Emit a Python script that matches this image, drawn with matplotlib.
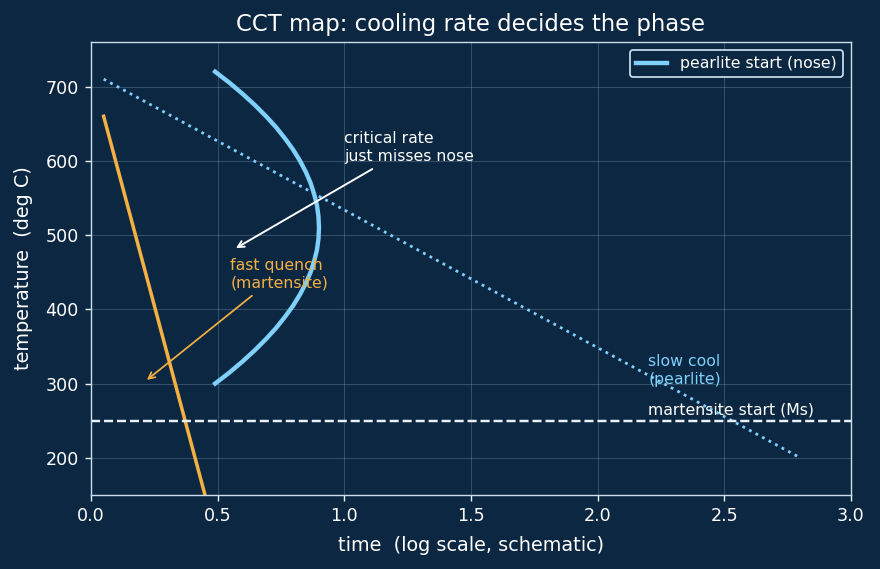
import numpy as np
import matplotlib
matplotlib.use('Agg')
import matplotlib.pyplot as plt

# 颜色
bg = '#0c2741'
fg = '#e8f1f8'
blue = '#7fd0fb'
orange = '#f5b043'

# 数据
nose_T = [300, 315, 330, 345, 360, 375, 390, 405, 420, 435, 450, 465, 480, 495, 510,
          525, 540, 555, 570, 585, 600, 615, 630, 645, 660, 675, 690, 705, 720]
nose_t = [0.490, 0.547, 0.599, 0.647, 0.691, 0.731, 0.766, 0.798, 0.825, 0.848, 0.867,
          0.881, 0.892, 0.898, 0.900, 0.898, 0.892, 0.881, 0.867, 0.848, 0.825, 0.798,
          0.766, 0.731, 0.691, 0.647, 0.599, 0.547, 0.490]
fast_t = [0.05, 0.45]
fast_T = [660, 150]
slow_t = [0.05, 2.8]
slow_T = [710, 200]
Ms = 250

fig = plt.figure(figsize=(880 / 126, 569 / 126), dpi=126, facecolor=bg)
ax = fig.add_axes([0.1034, 0.1301, 0.8636, 0.7961], facecolor=bg)

ax.plot(nose_t, nose_T, color=blue, lw=2.5, label='pearlite start (nose)')
ax.plot(fast_t, fast_T, color=orange, lw=2)
ax.plot(slow_t, slow_T, color=blue, lw=1.6, ls=':')
ax.axhline(Ms, color=fg, lw=1.4, ls='--')

ax.annotate('critical rate\njust misses nose', xy=(0.56, 480), xytext=(1.0, 600),
            color='white', fontsize=9,
            arrowprops=dict(arrowstyle='->', color='white', lw=1.1))
ax.annotate('fast quench\n(martensite)', xy=(0.21, 302), xytext=(0.55, 430),
            color=orange, fontsize=9,
            arrowprops=dict(arrowstyle='->', color=orange, lw=1))
ax.text(2.2, 300, 'slow cool\n(pearlite)', color=blue, fontsize=9)
ax.text(2.2, 258, 'martensite start (Ms)', color='white', fontsize=9)

ax.set_xlim(0, 3.0)
ax.set_ylim(150, 760)
ax.set_title('CCT map: cooling rate decides the phase', color='white', fontsize=13)
ax.set_xlabel('time  (log scale, schematic)', color='white', fontsize=11, labelpad=6)
ax.set_ylabel('temperature  (deg C)', color='white', fontsize=11, labelpad=7)
ax.tick_params(colors=fg, labelcolor='white', labelsize=10)
for s in ax.spines.values():
    s.set_color('#c9ddef')
ax.grid(True, color='#8fa9c2', alpha=0.3, lw=0.6)

leg = ax.legend(loc='upper right', fontsize=9, facecolor=bg, edgecolor='#c9ddef',
                labelcolor='white', framealpha=1)

fig.savefig('out.png', dpi=126, facecolor=bg)
